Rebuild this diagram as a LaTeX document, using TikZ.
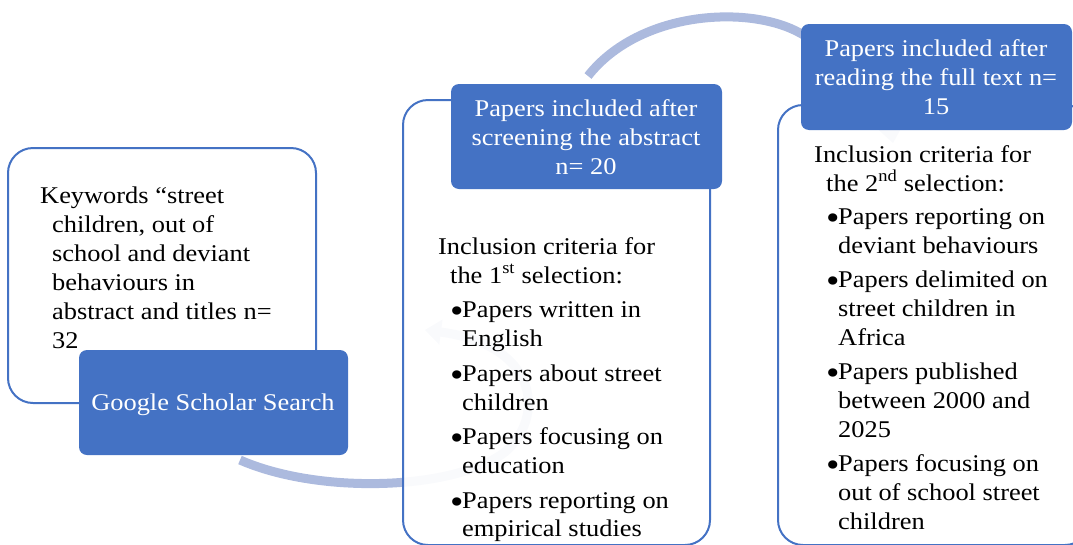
\documentclass[tikz,border=0pt]{standalone}
\usepackage{fontspec}
\usepackage{graphicx}
\setmainfont{Liberation Serif}[FakeStretch=1.1]
\usetikzlibrary{arrows.meta}
\definecolor{accent}{RGB}{68,114,196}
\definecolor{arccol}{RGB}{172,186,222}
\newcommand{\bul}{\makebox[12pt][l]{\raisebox{-5pt}{\scalebox{1.45}{•}}}}
\tikzset{
  outbox/.style={draw=accent, line width=2pt, fill=white, fill opacity=0.93, rounded corners=25pt, inner sep=0pt},
  headbox/.style={fill=accent, draw=none, rounded corners=8pt, inner sep=0pt},
  arcline/.style={draw=arccol, line width=9pt},
  txt/.style={anchor=base west, inner sep=0pt, font=\fontsize{24}{29}\selectfont},
  htxt/.style={anchor=base, inner sep=0pt, text=white, font=\fontsize{24}{29}\selectfont},
}
\begin{document}
\begin{tikzpicture}[x=1pt,y=-1pt]
\useasboundingbox (0,0) rectangle (1073,544);
\clip (0,0) rectangle (1073,544);
% arcs
\coordinate (a1s) at (240,460);
\coordinate (a1m) at (505,452);
\coordinate (a1e) at (425,330);
\coordinate (a2s) at (588,76);
\coordinate (a2m) at (800,33);
\coordinate (a2e) at (893,143);
\draw[arcline, -{Triangle[width=24pt,length=16pt]}] (a1s) .. controls (320,495) and (455,490) .. (a1m) .. controls (545,418) and (540,345) .. (a1e);
\draw[arcline, -{Triangle[width=24pt,length=16pt]}] (a2s) .. controls (640,10) and (750,5) .. (a2m) .. controls (850,60) and (885,95) .. (a2e);
% outline boxes
\node[outbox, minimum width=308pt, minimum height=255pt] (b1) at (162,275.5) {};
\node[outbox, minimum width=307pt, minimum height=445pt] (b2) at (556.5,322.5) {};
\node[outbox, minimum width=312pt, minimum height=440pt] (b3) at (934,325) {};
% header boxes
\node[headbox, minimum width=269pt, minimum height=105pt] (g) at (213.5,402.5) {};
\node[headbox, minimum width=271pt, minimum height=105pt] (h2) at (586.5,136.5) {};
\node[headbox, minimum width=271pt, minimum height=106pt] (h3) at (936.5,77) {};
% header texts
\node[htxt] (gt) at (213,410) {Google Scholar Search};
\node[htxt] (h2a) at (586,116) {Papers included after};
\node[htxt] (h2b) at (586,145) {screening the abstract};
\node[htxt] (h2c) at (586,174) {n= 20};
\node[htxt] (h3a) at (936,56) {Papers included after};
\node[htxt] (h3b) at (936,85) {reading the full text n=};
\node[htxt] (h3c) at (936,114) {15};
% box 1 text
\node[txt] (k1) at (40,203) {Keywords “street};
\node[txt] (k2) at (52,232) {children, out of};
\node[txt] (k3) at (52,261) {school and deviant};
\node[txt] (k4) at (52,290) {behaviours in};
\node[txt] (k5) at (52,319) {abstract and titles n=};
\node[txt] (k6) at (52,348) {32};
% box 2 text
\node[txt] (c1) at (438,254) {Inclusion criteria for};
\node[txt] (c2) at (450,283) {the 1\textsuperscript{st} selection:};
\node[txt] (d1) at (450,317) {\bul Papers written in};
\node[txt] (d2) at (462,346) {English};
\node[txt] (d3) at (450,381) {\bul Papers about street};
\node[txt] (d4) at (462,410) {children};
\node[txt] (d5) at (450,444) {\bul Papers focusing on};
\node[txt] (d6) at (462,473) {education};
\node[txt] (d7) at (450,508) {\bul Papers reporting on};
\node[txt] (d8) at (462,536) {empirical studies};
% box 3 text
\node[txt] (e1) at (814,162) {Inclusion criteria for};
\node[txt] (e2) at (826,191) {the 2\textsuperscript{nd} selection:};
\node[txt] (f1) at (826,224) {\bul Papers reporting on};
\node[txt] (f2) at (838,253) {deviant behaviours};
\node[txt] (f3) at (826,287) {\bul Papers delimited on};
\node[txt] (f4) at (838,316) {street children in};
\node[txt] (f5) at (838,345) {Africa};
\node[txt] (f6) at (826,379) {\bul Papers published};
\node[txt] (f7) at (838,408) {between 2000 and};
\node[txt] (f8) at (838,437) {2025};
\node[txt] (f9) at (826,471) {\bul Papers focusing on};
\node[txt] (f10) at (838,500) {out of school street};
\node[txt] (f11) at (838,529) {children};
\end{tikzpicture}
\end{document}
